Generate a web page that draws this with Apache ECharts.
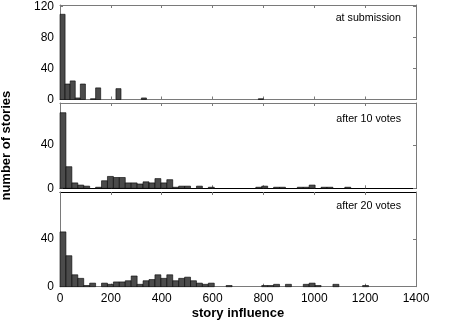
<!DOCTYPE html>
<html>
<head>
<meta charset="utf-8">
<script src="https://cdn.jsdelivr.net/npm/echarts@6/dist/echarts.min.js"></script>
<style>
html,body{margin:0;padding:0;background:#fff;}
#chart{width:460px;height:325px;}
</style>
</head>
<body>
<div id="chart"></div>
<script>
// x axis (story influence) ticks
const xTicks = [0, 200, 400, 600, 800, 1000, 1200, 1400];
// panel labels
const panelLabels = ['at submission', 'after 10 votes', 'after 20 votes'];
// bin widths (story influence units)
const binWidth1 = 20;
const binWidth2 = 1400 / 60;
const binWidth3 = 1400 / 60;
// histogram counts per bin, starting at 0
const counts1 = [110, 20, 24, 2, 20, 0, 1, 15, 0, 0,
                 0, 14, 0, 0, 0, 0, 2, 0, 0, 0,
                 0, 0, 0, 0, 0, 0, 0, 0, 0, 0,
                 0, 0, 0, 0, 0, 0, 0, 0, 0, 1];
const counts2 = [70, 20, 5, 3, 2, 0, 1, 7, 11, 10,
                 10, 5, 5, 4, 6, 5, 9, 5, 8, 1,
                 2, 2, 0, 2, 0, 1, 0, 0, 0, 0,
                 0, 0, 0, 1, 2, 0, 1, 1, 0, 0,
                 1, 1, 3, 0, 1, 1, 0, 0, 1];
const counts3 = [46, 26, 10, 7, 1, 3, 0, 3, 2, 4,
                 4, 5, 9, 2, 5, 6, 10, 7, 10, 5,
                 7, 8, 5, 3, 2, 3, 0, 0, 1, 0,
                 0, 0, 0, 0, 1, 1, 2, 0, 2, 0,
                 0, 2, 3, 1, 0, 0, 2, 0, 0, 0,
                 0, 1];
// y axis tick labels per panel
const yTicks1 = [0, 40, 80, 120];
const yTicks2 = [0, 40];
const yTicks3 = [0, 40];
const yMax = [122, 79, 79.5];

const panels = [
  {counts: counts1, w: binWidth1, yTicks: yTicks1, top: 5, height: 94.5},
  {counts: counts2, w: binWidth2, yTicks: yTicks2, top: 103, height: 85.3},
  {counts: counts3, w: binWidth3, yTicks: yTicks3, top: 192, height: 94.7}
];

const FONT = 'Liberation Sans, Arial, Helvetica, sans-serif';
const GRAY = '#7a7a7a';

const grids = [], xAxes = [], yAxes = [], series = [], titles = [];
panels.forEach((p, i) => {
  grids.push({left: 60, width: 356, top: p.top, height: p.height, show: false,
    containLabel: false, outerBoundsMode: 'none'});
  const isLast = i === 2;
  const bottomColor = (i === 1) ? '#000' : GRAY;
  const topColor = (i === 2) ? '#000' : GRAY;
  const xCommon = {
    type: 'value', gridIndex: i, min: 0, max: 1400, interval: 200,
    splitLine: {show: false},
    axisTick: {show: true, inside: true, length: 3, lineStyle: {color: GRAY}}
  };
  xAxes.push(Object.assign({}, xCommon, {
    position: 'bottom',
    axisLine: {show: true, onZero: false, lineStyle: {color: bottomColor, width: 1}},
    axisLabel: {
      show: isLast, color: '#000', fontSize: 12, fontFamily: FONT, margin: 6,
      formatter: v => xTicks.indexOf(v) >= 0 ? String(v) : ''
    },
    name: isLast ? 'story influence' : '',
    nameLocation: 'middle', nameGap: 20,
    nameTextStyle: {fontSize: 13, fontWeight: 'bold', color: '#000', fontFamily: FONT}
  }));
  xAxes.push(Object.assign({}, xCommon, {
    position: 'top',
    axisLine: {show: true, onZero: false, lineStyle: {color: topColor, width: 1}},
    axisLabel: {show: false}
  }));
  const yCommon = {
    type: 'value', gridIndex: i, min: 0, max: yMax[i], interval: 40,
    splitLine: {show: false},
    axisLine: {show: true, onZero: false, lineStyle: {color: GRAY, width: 1}},
    axisTick: {show: true, inside: true, length: 3, lineStyle: {color: GRAY},
      customValues: p.yTicks}
  };
  yAxes.push(Object.assign({}, yCommon, {
    position: 'left',
    axisLabel: {
      show: true, color: '#000', fontSize: 12, fontFamily: FONT, margin: 6,
      showMaxLabel: false,
      formatter: v => p.yTicks.indexOf(v) >= 0 ? String(v) : ''
    },
    name: i === 1 ? 'number of stories' : '',
    nameLocation: 'middle', nameGap: 47,
    nameTextStyle: {fontSize: 13, fontWeight: 'bold', color: '#000', fontFamily: FONT}
  }));
  yAxes.push(Object.assign({}, yCommon, {
    position: 'right',
    axisLabel: {show: false}
  }));
  const data = p.counts.map((c, k) => [k * p.w, (k + 1) * p.w, c]);
  series.push({
    type: 'custom', xAxisIndex: 2 * i, yAxisIndex: 2 * i,
    data: data,
    encode: {x: [0, 1], y: 2},
    renderItem: function (params, api) {
      const c = api.value(2);
      if (!c) return null;
      const p0 = api.coord([api.value(0), c]);
      const p1 = api.coord([api.value(1), 0]);
      return {
        type: 'rect',
        shape: {x: p0[0], y: p0[1], width: p1[0] - p0[0], height: p1[1] - p0[1]},
        style: {fill: '#4b4b4b', stroke: '#000', lineWidth: 0.6}
      };
    }
  });
});

titles.push({text: panelLabels[0], right: 59, top: 13});
titles.push({text: panelLabels[1], right: 59, top: 114});
titles.push({text: panelLabels[2], right: 59, top: 201});
titles.forEach(t => {
  t.padding = 0;
  t.textStyle = {fontSize: 10.7, fontWeight: 'normal', color: '#000', fontFamily: FONT};
});

const chart = echarts.init(document.getElementById('chart'), null, {renderer: 'canvas'});
chart.setOption({
  animation: false,
  backgroundColor: '#fff',
  title: titles,
  grid: grids,
  xAxis: xAxes,
  yAxis: yAxes,
  series: series
});
</script>
</body>
</html>
